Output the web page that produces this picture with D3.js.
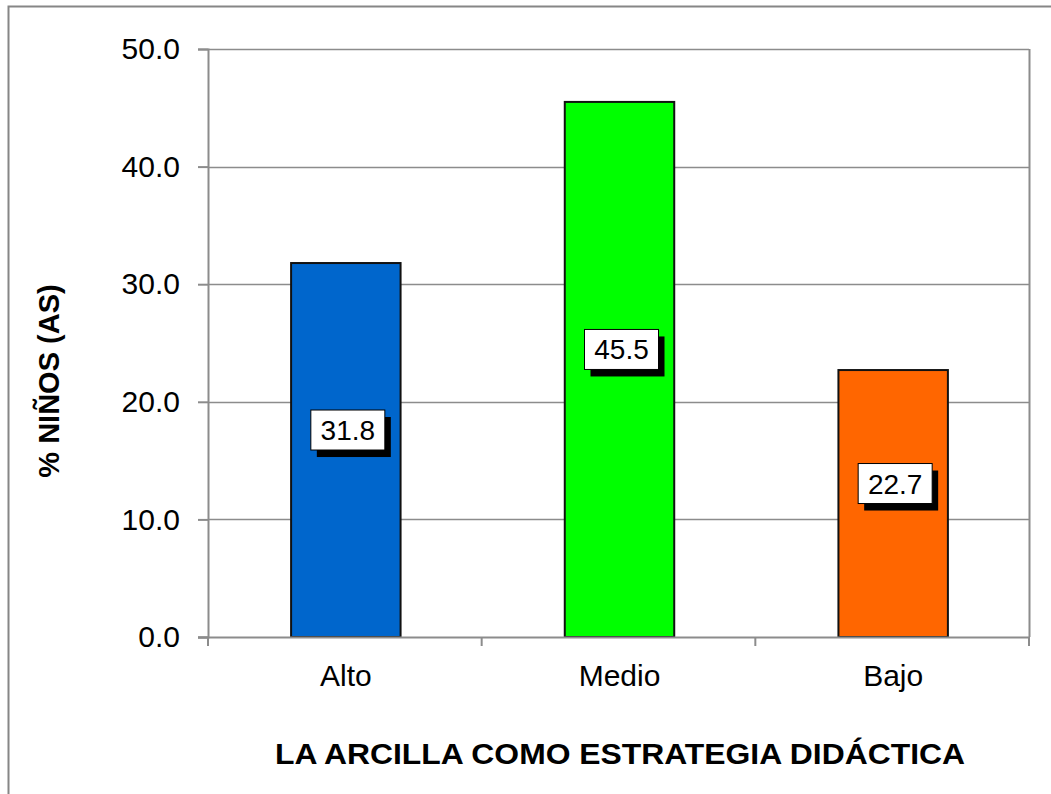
<!DOCTYPE html>
<html>
<head>
<meta charset="utf-8">
<script src="https://cdn.jsdelivr.net/npm/d3@7"></script>
<style>
  html, body { margin: 0; padding: 0; background: #fff; }
  svg { display: block; font-family: "Liberation Sans", Arial, sans-serif; }
</style>
</head>
<body>
<svg id="chart" width="1051" height="794"></svg>
<script>
// Chart data
const categories = ["Alto", "Medio", "Bajo"];
const values = [31.8, 45.5, 22.7];
const barColors = ["#0066CC", "#00FF00", "#FF6600"];
const yTicks = [0, 10, 20, 30, 40, 50];
const yTitle = "% NIÑOS (AS)";
const xTitle = "LA ARCILLA COMO ESTRATEGIA DIDÁCTICA";

const svg = d3.select("#chart");
const plot = { left: 208, right: 1029, top: 49, bottom: 637 };

// Outer chart frame
svg.append("rect")
  .attr("x", 8.5).attr("y", 6.5)
  .attr("width", 1060).attr("height", 800)
  .attr("fill", "none").attr("stroke", "#868686").attr("stroke-width", 2);

const x = d3.scaleBand()
  .domain(categories)
  .range([plot.left, plot.right])
  .paddingInner(0).paddingOuter(0);

const y = d3.scaleLinear()
  .domain([0, 50])
  .range([plot.bottom, plot.top]);

// Horizontal gridlines
svg.append("g")
  .selectAll("line")
  .data(yTicks.filter(t => t > 0))
  .join("line")
  .attr("x1", plot.left).attr("x2", plot.right)
  .attr("y1", d => Math.round(y(d)) + 0.5).attr("y2", d => Math.round(y(d)) + 0.5)
  .attr("stroke", "#8c8c8c").attr("stroke-width", 1.5);

// Right plot border
svg.append("line")
  .attr("x1", plot.right + 0.5).attr("x2", plot.right + 0.5)
  .attr("y1", plot.top).attr("y2", plot.bottom)
  .attr("stroke", "#8c8c8c").attr("stroke-width", 2);

// Bars
const barW = x.bandwidth() * 0.4;
svg.append("g")
  .selectAll("rect")
  .data(values)
  .join("rect")
  .attr("x", (d, i) => x(categories[i]) + (x.bandwidth() - barW) / 2 + 1)
  .attr("y", d => y(d))
  .attr("width", barW)
  .attr("height", d => y(0) - y(d))
  .attr("fill", (d, i) => barColors[i])
  .attr("stroke", "#111").attr("stroke-width", 2);

// Y axis
const yAxis = svg.append("g")
  .attr("transform", `translate(${plot.left},0)`)
  .call(d3.axisLeft(y).tickValues(yTicks).tickFormat(d3.format(".1f")).tickSize(10).tickPadding(18));
yAxis.select(".domain").attr("stroke", "#8c8c8c").attr("stroke-width", 2);
yAxis.selectAll(".tick line").attr("stroke", "#8c8c8c").attr("stroke-width", 2);
yAxis.selectAll(".tick text")
  .attr("font-size", 30).attr("fill", "#000")
  .attr("font-family", "Liberation Sans, Arial, sans-serif");

// X axis line and ticks at band boundaries
const xAxisG = svg.append("g");
xAxisG.append("line")
  .attr("x1", plot.left - 10).attr("x2", plot.right)
  .attr("y1", plot.bottom + 0.5).attr("y2", plot.bottom + 0.5)
  .attr("stroke", "#8c8c8c").attr("stroke-width", 2);
const boundaries = categories.map(c => x(c)).concat([x.range()[1]]);
xAxisG.selectAll("line.tk")
  .data(boundaries)
  .join("line").attr("class", "tk")
  .attr("x1", d => d).attr("x2", d => d)
  .attr("y1", plot.bottom).attr("y2", plot.bottom + 9)
  .attr("stroke", "#8c8c8c").attr("stroke-width", 2);
xAxisG.selectAll("text")
  .data(categories)
  .join("text")
  .attr("x", d => x(d) + x.bandwidth() / 2 + 1)
  .attr("y", 686)
  .attr("text-anchor", "middle")
  .attr("font-size", 30)
  .text(d => d);

// Value labels with drop shadow boxes
const lbl = svg.append("g");
values.forEach((v, i) => {
  const cx = x(categories[i]) + x.bandwidth() / 2 + 3;
  const cy = y(v / 2) - 20;
  const w = 74, h = 40;
  lbl.append("rect")
    .attr("x", cx - w / 2 + 6).attr("y", cy - h / 2 + 7)
    .attr("width", w).attr("height", h).attr("fill", "#000");
  lbl.append("rect")
    .attr("x", cx - w / 2).attr("y", cy - h / 2)
    .attr("width", w).attr("height", h)
    .attr("fill", "#fff").attr("stroke", "#000").attr("stroke-width", 1);
  lbl.append("text")
    .attr("x", cx).attr("y", cy + 10)
    .attr("text-anchor", "middle")
    .attr("font-size", 28)
    .text(d3.format(".1f")(v));
});

// Axis titles
svg.append("text")
  .attr("transform", "translate(59,381) rotate(-90)")
  .attr("text-anchor", "middle")
  .attr("font-size", 29).attr("font-weight", "bold")
  .text(yTitle);

svg.append("text")
  .attr("x", 620).attr("y", 764)
  .attr("text-anchor", "middle")
  .attr("font-size", 29).attr("font-weight", "bold")
  .attr("textLength", 690).attr("lengthAdjust", "spacingAndGlyphs")
  .text(xTitle);
</script>
</body>
</html>
